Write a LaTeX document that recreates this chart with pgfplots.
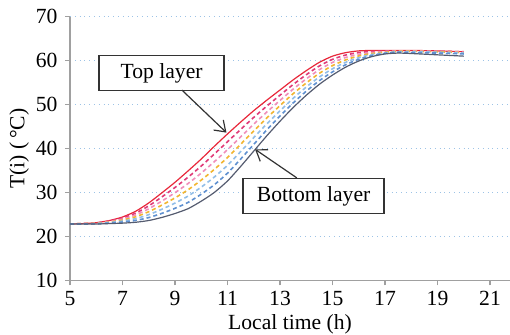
\documentclass[border=0pt]{standalone}
\usepackage{pgfplots}
\pgfplotsset{compat=1.18}
\usepackage{fontspec}
\setmainfont{Liberation Serif}
\usetikzlibrary{arrows.meta}
\definecolor{cR}{HTML}{E8283A}
\definecolor{cC}{HTML}{E03A78}
\definecolor{cP}{HTML}{F08EBA}
\definecolor{cY}{HTML}{F2B530}
\definecolor{cL}{HTML}{92BEE8}
\definecolor{cB}{HTML}{5F90D0}
\definecolor{cS}{HTML}{555C70}
\definecolor{axgray}{HTML}{A0A0A0}
\definecolor{gridblue}{HTML}{9DC3E6}
\begin{document}
\begin{tikzpicture}
\fontsize{10.8}{12}\selectfont
\begin{axis}[
  scale only axis, width=220pt, height=131.85pt,
  xmin=5, xmax=21.76, ymin=10, ymax=70,
  xtick={5,7,...,21}, ytick={10,20,...,70},
  axis x line*=bottom, axis y line*=left,
  axis line style={axgray, line width=0.6pt, -},
  tick style={axgray, line width=0.6pt},
  tick align=outside, major tick length=2.5pt,
  ymajorgrids, grid style={gridblue, dotted, line width=0.5pt},
  /pgf/number format/assume math mode=true,
  tick label style={font=\fontsize{10.8}{12}\selectfont},
  xticklabel style={yshift=1pt},
  label style={font=\fontsize{10.8}{12}\selectfont},
  xlabel={Local time (h)},
  ylabel={T(i) (\,°C)},
  xlabel style={yshift=3pt},
  ylabel style={yshift=-4pt},
  clip=false,
  every axis plot/.append style={smooth, tension=0.4, line width=0.6pt},
]
% Top layer (solid red)
\addplot[cR] coordinates {(5,22.8)(5.5,22.9)(6,23.1)(6.5,23.6)(7,24.4)(7.5,25.7)(8,27.6)(8.5,29.9)(9,32.3)(9.5,34.9)(10,37.6)(10.5,40.5)(11,43.3)(11.5,46.0)(12,48.6)(12.5,51.0)(13,53.3)(13.5,55.6)(14,57.7)(14.5,59.6)(15,61.0)(15.5,61.8)(16,62.2)(16.5,62.3)(17,62.3)(17.5,62.3)(18,62.3)(19,62.2)(20,62.0)};
\addplot[cC, line width=0.8pt, dash pattern=on 2pt off 1.5pt] coordinates {(5,22.8)(5.5,22.9)(6,23.05)(6.5,23.48)(7,24.17)(7.5,25.28)(8,26.93)(8.5,28.97)(9,31.12)(9.5,33.47)(10,36.0)(10.5,38.75)(11,41.52)(11.5,44.32)(12,47.07)(12.5,49.65)(13,52.12)(13.5,54.55)(14,56.77)(14.5,58.77)(15,60.28)(15.5,61.25)(16,61.82)(16.5,62.07)(17,62.17)(17.5,62.2)(18,62.2)(19,62.1)(20,62.0)};
\addplot[cP, line width=0.8pt, dash pattern=on 2pt off 1.5pt] coordinates {(5,22.8)(5.5,22.9)(6,23.0)(6.5,23.37)(7,23.93)(7.5,24.87)(8,26.27)(8.5,28.03)(9,29.93)(9.5,32.03)(10,34.4)(10.5,37.0)(11,39.73)(11.5,42.63)(12,45.53)(12.5,48.3)(13,50.93)(13.5,53.5)(14,55.83)(14.5,57.93)(15,59.57)(15.5,60.7)(16,61.43)(16.5,61.83)(17,62.03)(17.5,62.2)(18,62.2)(19,62.1)(20,61.9)};
\addplot[cY, line width=0.8pt, dash pattern=on 2pt off 1.5pt] coordinates {(5,22.8)(5.5,22.9)(6,22.95)(6.5,23.25)(7,23.70)(7.5,24.45)(8,25.60)(8.5,27.10)(9,28.75)(9.5,30.60)(10,32.8)(10.5,35.25)(11,37.95)(11.5,40.95)(12,44.0)(12.5,46.95)(13,49.75)(13.5,52.45)(14,54.9)(14.5,57.1)(15,58.85)(15.5,60.15)(16,61.05)(16.5,61.6)(17,61.9)(17.5,62.1)(18,62.1)(19,62.0)(20,61.8)};
\addplot[cL, line width=0.8pt, dash pattern=on 2pt off 1.5pt] coordinates {(5,22.8)(5.5,22.8)(6,22.9)(6.5,23.13)(7,23.47)(7.5,24.03)(8,24.93)(8.5,26.17)(9,27.57)(9.5,29.17)(10,31.2)(10.5,33.5)(11,36.17)(11.5,39.27)(12,42.47)(12.5,45.6)(13,48.57)(13.5,51.4)(14,53.97)(14.5,56.27)(15,58.13)(15.5,59.6)(16,60.67)(16.5,61.37)(17,61.77)(17.5,62.0)(18,62.0)(19,61.9)(20,61.7)};
\addplot[cB, line width=0.8pt, dash pattern=on 2pt off 1.5pt] coordinates {(5,22.8)(5.5,22.8)(6,22.85)(6.5,23.02)(7,23.23)(7.5,23.62)(8,24.27)(8.5,25.23)(9,26.38)(9.5,27.73)(10,29.6)(10.5,31.75)(11,34.38)(11.5,37.58)(12,40.93)(12.5,44.25)(13,47.38)(13.5,50.35)(14,53.03)(14.5,55.43)(15,57.42)(15.5,59.05)(16,60.28)(16.5,61.13)(17,61.63)(17.5,61.9)(18,61.8)(19,61.7)(20,61.5)};
% Bottom layer (solid slate)
\addplot[cS] coordinates {(5,22.8)(5.5,22.8)(6,22.8)(6.5,22.9)(7,23.0)(7.5,23.2)(8,23.6)(8.5,24.3)(9,25.2)(9.5,26.3)(10,28.0)(10.5,30.0)(11,32.6)(11.5,35.9)(12,39.4)(12.5,42.9)(13,46.2)(13.5,49.3)(14,52.1)(14.5,54.6)(15,56.7)(15.5,58.5)(16,59.9)(16.5,60.9)(17,61.5)(17.5,61.7)(18,61.6)(19,61.3)(20,61.0)};
% annotations
\node[draw=black!80, fill=white, line width=0.7pt, minimum width=62.5pt, minimum height=17.5pt, inner sep=0pt, font=\fontsize{10.8}{12}\selectfont] at (axis cs:8.49,57.2) {Top layer};
\node[draw=black!80, fill=white, line width=0.7pt, minimum width=70.5pt, minimum height=17.5pt, inner sep=0pt, font=\fontsize{10.8}{12}\selectfont] at (axis cs:14.28,29.18) {Bottom layer};
\draw[black!80, line width=0.6pt, -{Straight Barb[length=5pt,width=7pt]}] (axis cs:9.26,53.3) -- (axis cs:10.96,43.6);
\draw[black!80, line width=0.6pt, -{Straight Barb[length=5pt,width=7pt]}] (axis cs:13.64,33.3) -- (axis cs:12.05,39.8);
\end{axis}
\pgfresetboundingbox
\path[use as bounding box] (-35pt,-27.35pt) rectangle (220pt,140.15pt);
\end{tikzpicture}
\end{document}
